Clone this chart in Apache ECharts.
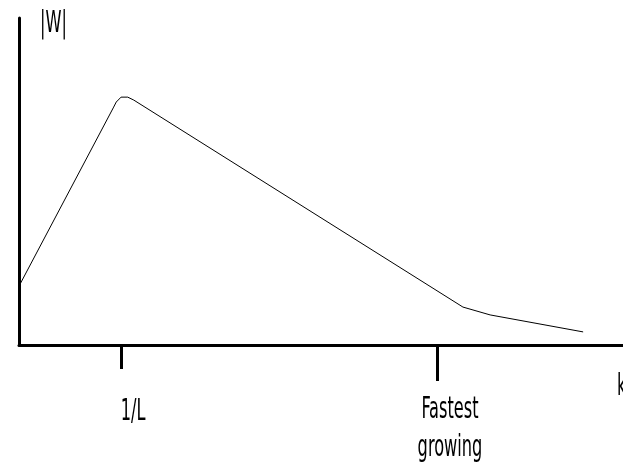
<!DOCTYPE html>
<html>
<head>
<meta charset="utf-8">
<style>
  html, body { margin: 0; padding: 0; background: #fff; }
  #chart { width: 623px; height: 468px; }
</style>
<script src="https://cdn.jsdelivr.net/npm/echarts@6/dist/echarts.min.js"></script>
</head>
<body>
<div id="chart"></div>
<script>
// Growth-rate magnitude |W| against wavenumber k
const kValues = [0, 1.56, 1.61, 1.69, 1.80, 1.90, 7.35, 7.80, 9.34];
const wValues = [1.80, 7.25, 7.43, 7.58, 7.58, 7.49, 1.16, 0.92, 0.40];
const tickValues = [1.69, 6.92];
const tickLabels = ['1/L', 'Fastest\ngrowing'];
const xName = 'k';
const yName = '|W|';

// Tall, narrow lettering: a condensed face squeezed horizontally
const FONT_FAMILY = '"DejaVu Sans Condensed", "DejaVu Sans", sans-serif';
const FONT_SIZE = 30;
const SQUEEZE = 0.6;
const LINE_GAP = 38;

const GRID = { left: 19, right: 0, top: 18, bottom: 123 };

const chart = echarts.init(document.getElementById('chart'), null, { renderer: 'canvas' });

function tickAxis(i, tickLength, showLine) {
  return {
    type: 'value',
    min: 0,
    max: 10,
    position: 'bottom',
    splitLine: { show: false },
    axisLine: { show: showLine, onZero: false, lineStyle: { color: '#000', width: 3 } },
    axisTick: {
      show: true,
      customValues: [tickValues[i]],
      length: tickLength,
      lineStyle: { color: '#000', width: 3 }
    },
    axisLabel: { show: false }
  };
}

chart.setOption({
  animation: false,
  backgroundColor: '#fff',
  grid: Object.assign({ outerBoundsMode: 'none', containLabel: false }, GRID),
  xAxis: [tickAxis(0, 24, true), tickAxis(1, 36, false)],
  yAxis: {
    type: 'value',
    min: 0,
    max: 10,
    splitLine: { show: false },
    axisTick: { show: false },
    axisLabel: { show: false },
    axisLine: { show: true, lineStyle: { color: '#000', width: 3 } }
  },
  series: [{
    type: 'line',
    xAxisIndex: 0,
    data: kValues.map((k, i) => [k, wValues[i]]),
    showSymbol: false,
    symbol: 'none',
    lineStyle: { color: '#000', width: 1 },
    smooth: false
  }]
});

// Text marks, placed from the axes' own pixel scale
function textEl(str, x, y, align) {
  return {
    type: 'text',
    x: x,
    y: y,
    scaleX: SQUEEZE,
    scaleY: 1,
    silent: true,
    style: {
      text: str,
      fill: '#000',
      font: FONT_SIZE + 'px ' + FONT_FAMILY,
      textAlign: align,
      textVerticalAlign: 'middle'
    }
  };
}

const axisY = chart.convertToPixel({ yAxisIndex: 0 }, 0);
const axisTop = chart.convertToPixel({ yAxisIndex: 0 }, 10);
const axisLeft = chart.convertToPixel({ xAxisIndex: 0 }, 0);
const axisRight = chart.convertToPixel({ xAxisIndex: 0 }, 10);
const labelShift = [12, 13];
const labelDrop = [67, 65];

const graphics = [];
tickValues.forEach((v, i) => {
  const px = chart.convertToPixel({ xAxisIndex: 0 }, v) + labelShift[i];
  tickLabels[i].split('\n').forEach((line, j) => {
    graphics.push(textEl(line, px, axisY + labelDrop[i] + j * LINE_GAP, 'center'));
  });
});
graphics.push(textEl(yName, axisLeft + 21, axisTop + 6, 'left'));
graphics.push(textEl(xName, axisRight - 6, axisY + 42, 'left'));

chart.setOption({ graphic: graphics });
</script>
</body>
</html>
